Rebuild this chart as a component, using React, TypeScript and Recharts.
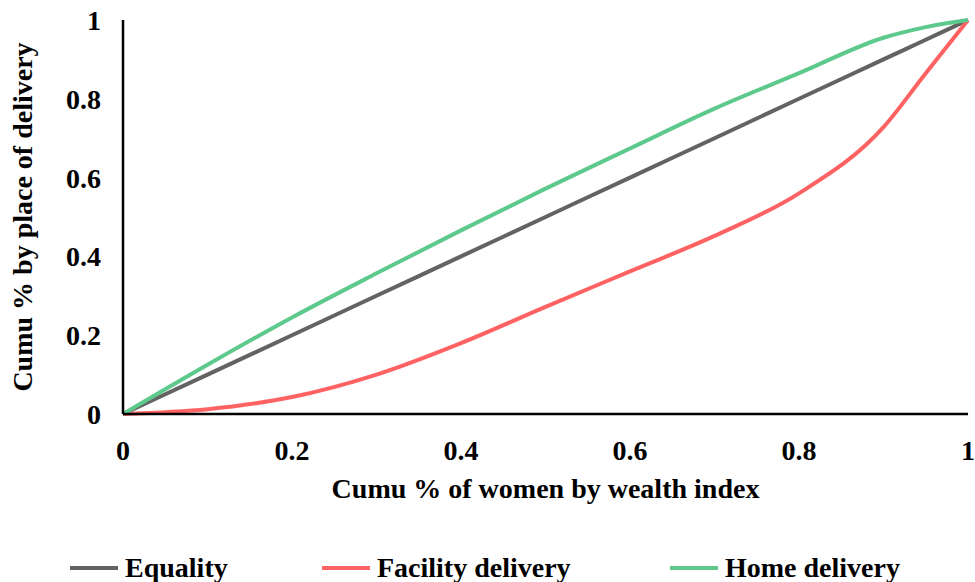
import React from "react";
import { Line, LineChart, XAxis, YAxis } from "recharts";

const wealthShare = [0, 0.1, 0.2, 0.3, 0.4, 0.5, 0.6, 0.7, 0.8, 0.9, 0.95, 1];
const equality = [0, 0.1, 0.2, 0.3, 0.4, 0.5, 0.6, 0.7, 0.8, 0.9, 0.95, 1];
const facilityDelivery = [0, 0.012, 0.043, 0.1, 0.18, 0.272, 0.362, 0.452, 0.56, 0.728, 0.865, 1];
const homeDelivery = [0, 0.125, 0.245, 0.357, 0.466, 0.572, 0.674, 0.775, 0.865, 0.955, 0.982, 1];
const ticks = [0, 0.2, 0.4, 0.6, 0.8, 1];

const data = wealthShare.map((x, i) => ({
  x,
  equality: equality[i],
  facility: facilityDelivery[i],
  home: homeDelivery[i],
}));

const SERIES = [
  { key: "equality", label: "Equality", stroke: "#636363" },
  { key: "facility", label: "Facility delivery", stroke: "#ff6262" },
  { key: "home", label: "Home delivery", stroke: "#5ec98c" },
] as const;

const FONT = "Liberation Serif";
const tickStyle = { fill: "#000", fontSize: 28, fontWeight: 700, fontFamily: FONT };
const fmt = (v: number) => String(v);

export default function App() {
  return (
    <div style={{ position: "absolute", left: 0, top: 0, width: 975, height: 582, background: "#fff", fontFamily: FONT }}>
      <LineChart width={975} height={582} data={data} margin={{ top: 20, right: 7, left: 0, bottom: 0 }}>
        <XAxis
          dataKey="x"
          type="number"
          domain={[0, 1]}
          ticks={ticks}
          tickFormatter={fmt}
          tick={tickStyle}
          tickLine={false}
          axisLine={{ stroke: "#000", strokeWidth: 2.5 }}
          tickMargin={20}
          height={168}
          label={{
            value: "Cumu % of women by wealth index",
            position: "insideTop",
            offset: 64,
            style: { ...tickStyle, textAnchor: "middle" },
          }}
        />
        <XAxis xAxisId="top" dataKey="x" type="number" domain={[0, 1]} orientation="top" height={0} tick={false} tickLine={false} axisLine={{ stroke: "#000", strokeWidth: 2.5 }} />
        <YAxis
          type="number"
          domain={[0, 1]}
          ticks={ticks}
          tickFormatter={fmt}
          tick={tickStyle}
          tickLine={false}
          axisLine={{ stroke: "#000", strokeWidth: 2.5 }}
          tickMargin={16}
          width={123}
          label={{
            value: "Cumu % by place of delivery",
            angle: -90,
            position: "insideLeft",
            offset: 22,
            style: { ...tickStyle, textAnchor: "middle" },
          }}
        />
        <YAxis yAxisId="right" orientation="right" domain={[0, 1]} width={0} tick={false} tickLine={false} axisLine={{ stroke: "#000", strokeWidth: 2.5 }} />
        {SERIES.map((s) => (
          <Line
            key={s.key}
            type="monotone"
            dataKey={s.key}
            name={s.label}
            stroke={s.stroke}
            strokeWidth={4}
            dot={false}
            isAnimationActive={false}
          />
        ))}
      </LineChart>
      {SERIES.map((s, i) => (
        <div
          key={s.key}
          style={{
            position: "absolute",
            left: [70, 322, 670][i],
            top: 551,
            display: "flex",
            alignItems: "center",
            fontSize: 28,
            fontWeight: 700,
            color: "#000",
            lineHeight: "34px",
          }}
        >
          <span style={{ display: "inline-block", width: 48, height: 4, background: s.stroke, marginRight: 7 }} />
          {s.label}
        </div>
      ))}
    </div>
  );
}
